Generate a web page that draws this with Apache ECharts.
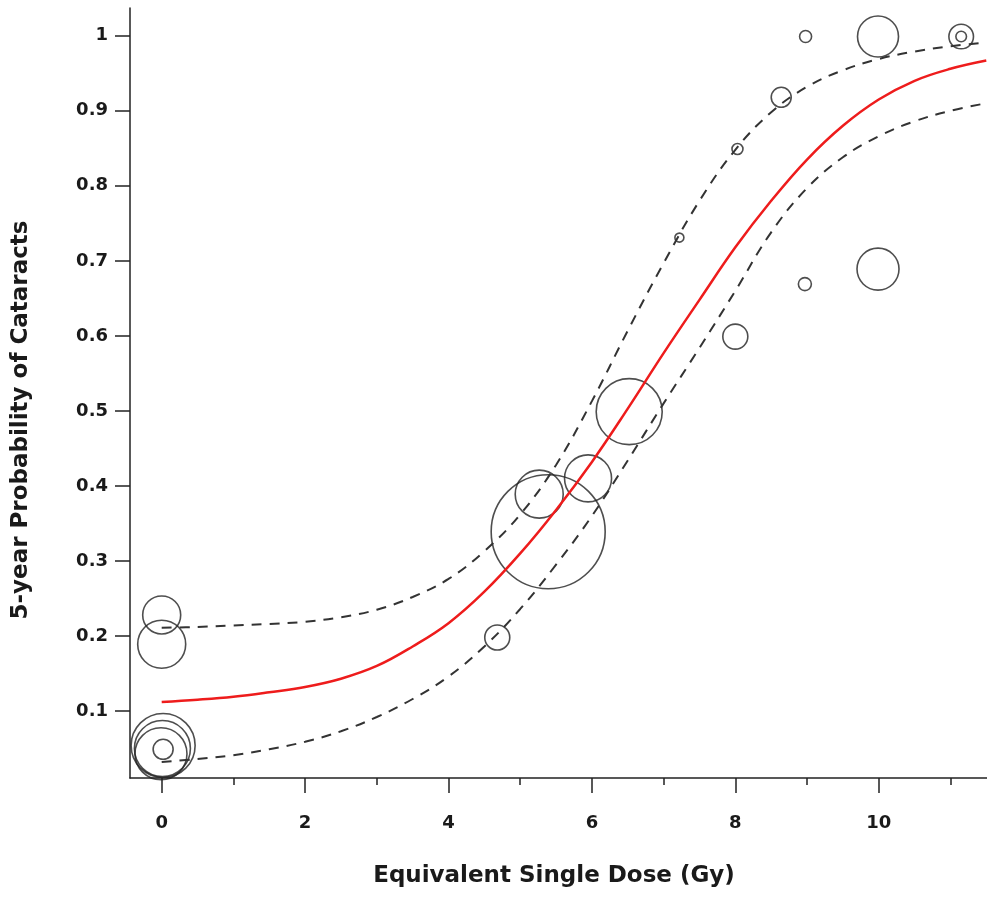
<!DOCTYPE html>
<html>
<head>
<meta charset="utf-8">
<script src="https://cdn.jsdelivr.net/npm/echarts@6/dist/echarts.min.js"></script>
<style>
  html, body { margin: 0; padding: 0; background: #fff; }
  #chart { width: 987px; height: 900px; }
</style>
</head>
<body>
<div id="chart"></div>
<script>
// fitted curve + confidence band
var doseGrid = [0, 0.5, 1, 1.5, 2, 2.5, 3, 3.5, 4, 4.5, 5, 5.5, 6, 6.5, 7, 7.5, 8, 8.5, 9, 9.5, 10, 10.5, 11, 11.5]
var fitProb = [0.112, 0.115, 0.119, 0.125, 0.132, 0.143, 0.160, 0.186, 0.217, 0.259, 0.310, 0.368, 0.432, 0.503, 0.577, 0.648, 0.718, 0.780, 0.835, 0.880, 0.915, 0.940, 0.956, 0.967]
var upperProb = [0.211, 0.212, 0.214, 0.216, 0.219, 0.225, 0.235, 0.252, 0.276, 0.313, 0.362, 0.428, 0.513, 0.607, 0.697, 0.780, 0.848, 0.898, 0.932, 0.954, 0.969, 0.979, 0.986, 0.991]
var lowerProb = [0.032, 0.036, 0.041, 0.049, 0.059, 0.073, 0.092, 0.116, 0.146, 0.186, 0.236, 0.295, 0.360, 0.434, 0.510, 0.584, 0.660, 0.738, 0.797, 0.838, 0.866, 0.886, 0.900, 0.910]

// observed groups: dose, probability, bubble radius (px)
var obsDose = [0.02, 0.01, -0.01, 0.02, 0, 0, 4.68, 5.39, 5.265, 5.946, 6.52, 7.22, 8.03, 8.64, 8.98, 9.99, 11.15, 11.15, 8.0, 8.97, 9.99]
var obsProb = [0.054, 0.05, 0.043, 0.049, 0.228, 0.189, 0.198, 0.339, 0.389, 0.41, 0.499, 0.731, 0.849, 0.918, 0.999, 0.999, 0.999, 0.999, 0.599, 0.669, 0.689]
var obsRadius = [32, 28, 26, 10, 19, 24, 12.5, 57, 24, 23.5, 33, 4.5, 5.5, 10, 6, 20.5, 12.3, 5.3, 12.5, 6.5, 21]

var xMajorTicks = [0, 2, 4, 6, 8, 10]
var xMinorTicks = [1, 3, 5, 7, 9, 11]
var yTicks = [0.1, 0.2, 0.3, 0.4, 0.5, 0.6, 0.7, 0.8, 0.9, 1]

function pairs(xs, ys) {
  var out = []
  for (var i = 0; i < xs.length; i++) out.push([xs[i], ys[i]])
  return out
}

var bubbles = []
for (var i = 0; i < obsDose.length; i++) {
  bubbles.push([obsDose[i], obsProb[i], obsRadius[i]])
}

var chart = echarts.init(document.getElementById('chart'))
var labelFont = { fontFamily: 'DejaVu Sans', fontWeight: 'bold', fontSize: 18, color: '#1a1a1a' }
var titleFont = 'bold 23px "DejaVu Sans"'

var option = {
  backgroundColor: '#fff',
  animation: false,
  grid: { left: 130, right: 0, top: 8, bottom: 122 },
  xAxis: [{
    type: 'value',
    min: -0.442,
    max: 11.51,
    splitLine: { show: false },
    axisLine: { onZero: false, lineStyle: { color: '#222', width: 1.5 } },
    axisTick: { customValues: xMajorTicks, length: 15, lineStyle: { color: '#222', width: 1.5 } },
    axisLabel: Object.assign({ customValues: xMajorTicks, margin: 36 }, labelFont)
  }, {
    type: 'value',
    position: 'bottom',
    min: -0.442,
    max: 11.51,
    splitLine: { show: false },
    axisLine: { show: false, onZero: false },
    axisTick: { customValues: xMinorTicks, length: 7, lineStyle: { color: '#222', width: 1.5 } },
    axisLabel: { show: false }
  }],
  yAxis: {
    type: 'value',
    min: 0.0107,
    max: 1.037,
    splitLine: { show: false },
    axisLine: { show: true, onZero: false, lineStyle: { color: '#222', width: 1.5 } },
    axisTick: { show: true, customValues: yTicks, length: 15, lineStyle: { color: '#222', width: 1.5 } },
    axisLabel: Object.assign({
      customValues: yTicks,
      margin: 22,
      formatter: function (v) { return v === 1 ? '1' : v.toFixed(1) }
    }, labelFont)
  },
  graphic: [{
    type: 'text',
    x: 21, y: 420,
    rotation: Math.PI / 2,
    style: {
      text: '5-year Probability of Cataracts',
      font: titleFont,
      fill: '#1a1a1a',
      align: 'center',
      verticalAlign: 'middle'
    }
  }, {
    type: 'text',
    x: 554, y: 876,
    style: {
      text: 'Equivalent Single Dose (Gy)',
      font: titleFont,
      fill: '#1a1a1a',
      align: 'center',
      verticalAlign: 'middle'
    }
  }],
  series: [{
    name: 'upper',
    type: 'line',
    smooth: 0.4,
    showSymbol: false,
    data: pairs(doseGrid, upperProb),
    lineStyle: { color: '#333', width: 2, type: [10, 8] }
  }, {
    name: 'lower',
    type: 'line',
    smooth: 0.4,
    showSymbol: false,
    data: pairs(doseGrid, lowerProb),
    lineStyle: { color: '#333', width: 2, type: [10, 8] }
  }, {
    name: 'fit',
    type: 'line',
    smooth: 0.4,
    showSymbol: false,
    data: pairs(doseGrid, fitProb),
    lineStyle: { color: '#ee1c1c', width: 2.5 }
  }, {
    name: 'observed',
    type: 'scatter',
    clip: false,
    data: bubbles,
    symbol: 'circle',
    symbolSize: function (d) { return d[2] * 2 },
    itemStyle: { color: 'rgba(0,0,0,0)', borderColor: '#222', borderWidth: 1.6 }
  }]
}

chart.setOption(option)
</script>
</body>
</html>
